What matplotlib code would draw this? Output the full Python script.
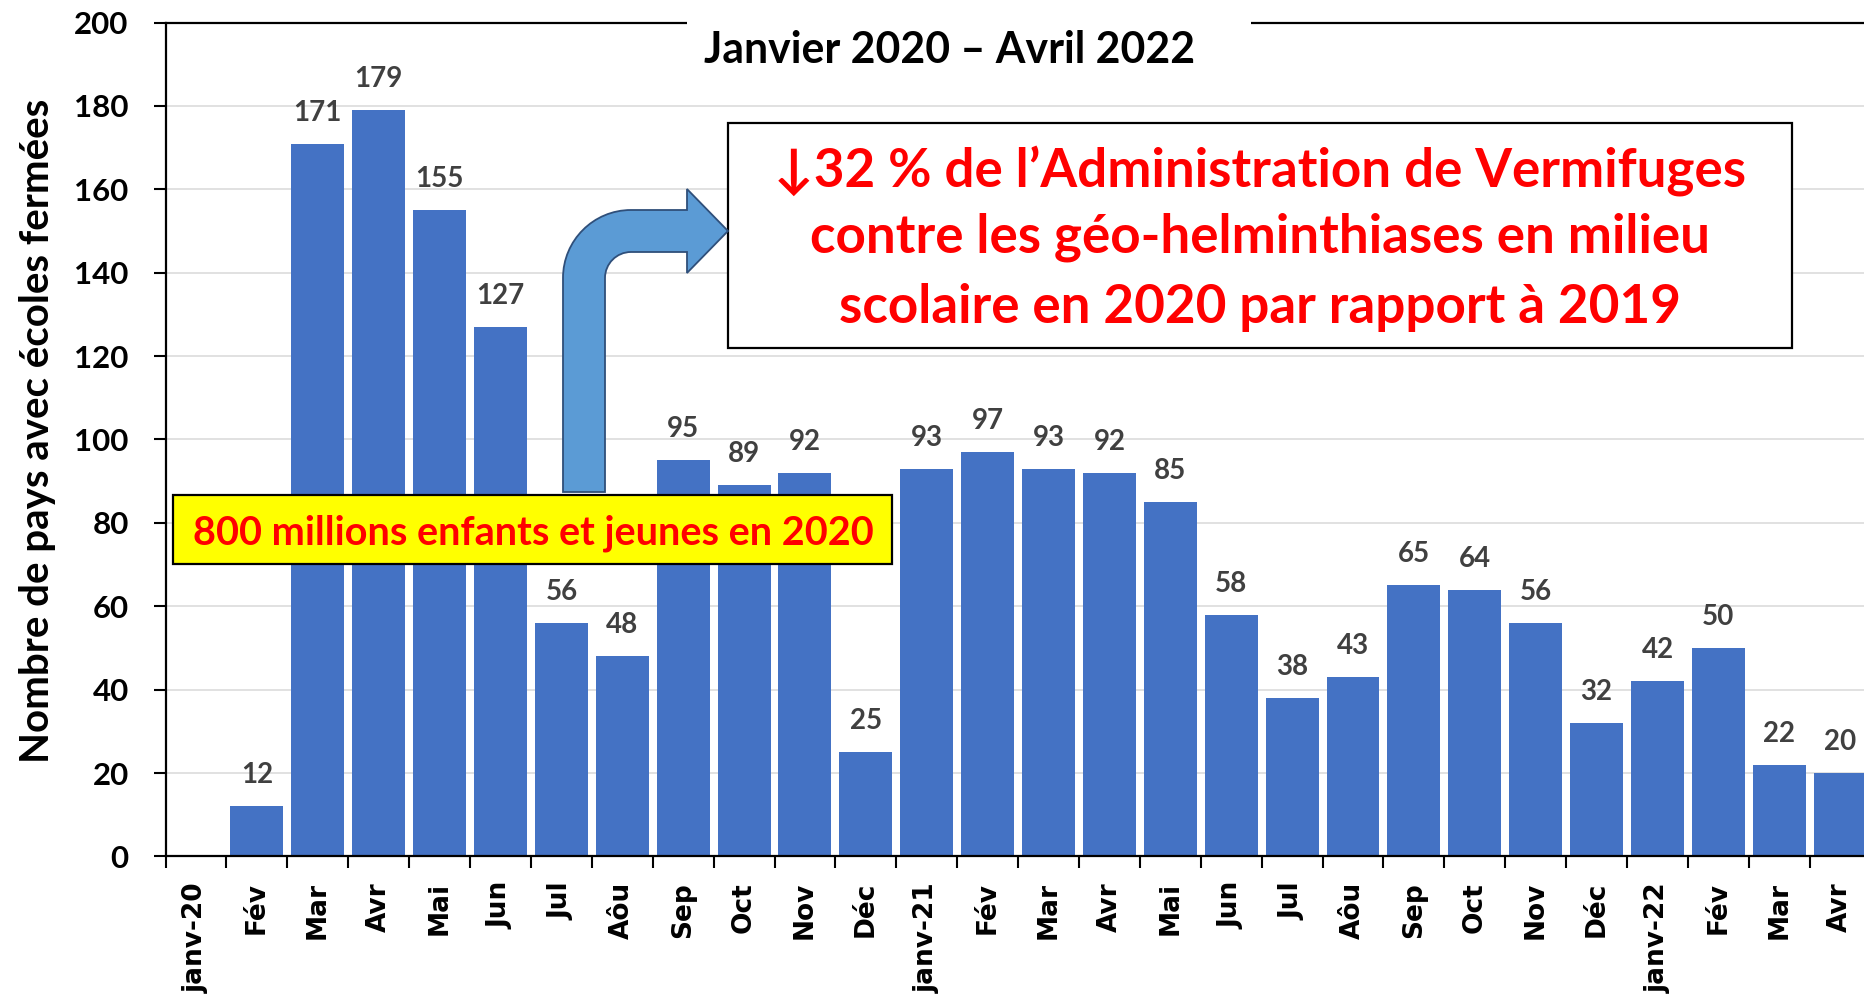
import numpy as np
import matplotlib
matplotlib.use("Agg")
import matplotlib.pyplot as plt
from matplotlib.path import Path
from matplotlib.patches import PathPatch, Rectangle

# ---------------- data ----------------
months = ["janv-20", "Fév", "Mar", "Avr", "Mai", "Jun", "Jul", "Aôu", "Sep", "Oct", "Nov", "Déc",
          "janv-21", "Fév", "Mar", "Avr", "Mai", "Jun", "Jul", "Aôu", "Sep", "Oct", "Nov", "Déc",
          "janv-22", "Fév", "Mar", "Avr"]
closed_countries = [0, 12, 171, 179, 155, 127, 56, 48, 95, 89, 92, 25,
                    93, 97, 93, 92, 85, 58, 38, 43, 65, 64, 56, 32,
                    42, 50, 22, 20]
y_ticks = list(range(0, 201, 20))
title_text = "Janvier 2020 – Avril 2022"
ylabel_text = "Nombre de pays avec écoles fermées"
box_lines = ["↓32 % de l’Administration de Vermifuges",
             "contre les géo-helminthiases en milieu",
             "scolaire en 2020 par rapport à 2019"]
yellow_text = "800 millions enfants et jeunes en 2020"

# ---------------- figure ----------------
W, H = 1865, 997
fig = plt.figure(figsize=(W / 100, H / 100), dpi=100)
fig.patch.set_facecolor("white")

def fx(x):
    return x / W

def fy(y):
    return 1 - y / H

ax_left, ax_right, ax_top, ax_bottom = 165.6, 1870.6, 22.6, 856.4
ax = fig.add_axes([fx(ax_left), fy(ax_bottom), (ax_right - ax_left) / W, (ax_bottom - ax_top) / H])

x = np.arange(len(months))
ax.bar(x, closed_countries, width=0.87, color="#4472C4", zorder=2)
ax.set_xlim(-0.5, len(months) - 0.5)
ax.set_ylim(0, 200)

LBL = ["Lato", "DejaVu Sans"]

for xi, v in zip(x, closed_countries):
    if v > 0:
        ax.annotate(str(v), (xi, v), xytext=(0, 31 * 0.72), textcoords="offset points",
                    ha="center", va="center", fontsize=20, fontweight="bold",
                    family=LBL, color="#404040", zorder=4)

# grid & spines
ax.set_axisbelow(True)
ax.yaxis.grid(True, color="#D9D9D9", linewidth=1.1)
ax.spines["right"].set_visible(False)
for s in ("left", "bottom", "top"):
    ax.spines[s].set_color("black")
    ax.spines[s].set_linewidth(1.6)

ax.set_yticks(y_ticks)
ax.set_yticklabels([str(t) for t in y_ticks])
ax.tick_params(axis="y", direction="out", length=8.6, width=1.5, pad=18, labelsize=22.5)
for t in ax.get_yticklabels():
    t.set_fontweight("bold")
    t.set_family(LBL)

ax.set_xticks(np.arange(-0.5, len(months), 1.0))
ax.set_xticklabels([])
ax.tick_params(axis="x", which="major", direction="out", length=8.6, width=1.5)
ax.set_xticks(x, minor=True)
ax.set_xticklabels(months, minor=True, rotation=90, fontsize=19, fontweight="bold",
                   family="DejaVu Sans")
ax.tick_params(axis="x", which="minor", length=0, pad=18.5)

fig.canvas.draw()
renderer = fig.canvas.get_renderer()

def fit_w(t, target):
    bb = t.get_window_extent(renderer)
    t.set_fontsize(t.get_fontsize() * target / bb.width)

def fit_h(t, target):
    bb = t.get_window_extent(renderer)
    t.set_fontsize(t.get_fontsize() * target / bb.height)

# y label
yl = fig.text(fx(38), fy(431), ylabel_text, rotation=90, ha="center", va="center",
              fontsize=26, fontweight="bold", family=LBL, color="black")
fit_h(yl, 663)

# title with white backing covering the top line
fig.patches.append(Rectangle((fx(687), fy(78)), (1251 - 687) / W, 78 / H,
                             transform=fig.transFigure, facecolor="white",
                             edgecolor="none", zorder=3))
tt = fig.text(fx(950), fy(63), title_text, ha="center", va="baseline",
              fontsize=24, fontweight="bold", family=LBL, color="black", zorder=4)
fit_w(tt, 490)

# red text box
fig.patches.append(Rectangle((fx(728), fy(348)), (1792 - 728) / W, (348 - 123) / H,
                             transform=fig.transFigure, facecolor="white",
                             edgecolor="black", linewidth=1.6, zorder=3))
baselines = [186, 253, 323]
widths = [977, 906, 836]
objs = []
for line, b in zip(box_lines, baselines):
    t = fig.text(fx(1260), fy(b), line, ha="center", va="baseline", fontsize=30,
                 fontweight="bold", family=LBL, color="#FF0000", zorder=4)
    objs.append(t)
fig.canvas.draw()
sizes = []
for t, w in zip(objs, widths):
    bb = t.get_window_extent(renderer)
    sizes.append(t.get_fontsize() * w / bb.width)
s = float(np.mean(sizes))
for t in objs:
    t.set_fontsize(s)

# yellow box
fig.patches.append(Rectangle((fx(173), fy(564)), (892 - 173) / W, (564 - 495) / H,
                             transform=fig.transFigure, facecolor="#FFFF00",
                             edgecolor="black", linewidth=1.6, zorder=3))
yt = fig.text(fx(533), fy(545), yellow_text, ha="center", va="baseline", fontsize=24,
              fontweight="bold", family=LBL, color="#FF0000", zorder=4)
fit_w(yt, 682)

# bent arrow
k = 0.5523
verts = [(563, 492), (563, 278),
         (563, 278 - 68 * k), (631 - 68 * k, 210), (631, 210),
         (687, 210), (687, 189), (728, 231), (687, 273), (687, 252), (631, 252),
         (631 - 26 * k, 252), (605, 278 - 26 * k), (605, 278),
         (605, 492), (563, 492)]
codes = [Path.MOVETO, Path.LINETO,
         Path.CURVE4, Path.CURVE4, Path.CURVE4,
         Path.LINETO, Path.LINETO, Path.LINETO, Path.LINETO, Path.LINETO, Path.LINETO,
         Path.CURVE4, Path.CURVE4, Path.CURVE4,
         Path.LINETO, Path.CLOSEPOLY]
verts_f = [(fx(a), fy(b)) for a, b in verts]
fig.patches.append(PathPatch(Path(verts_f, codes), transform=fig.transFigure,
                             facecolor="#5B9BD5", edgecolor="#2F4F7A", linewidth=1.3,
                             zorder=3))

fig.savefig("out.png", dpi=100)
